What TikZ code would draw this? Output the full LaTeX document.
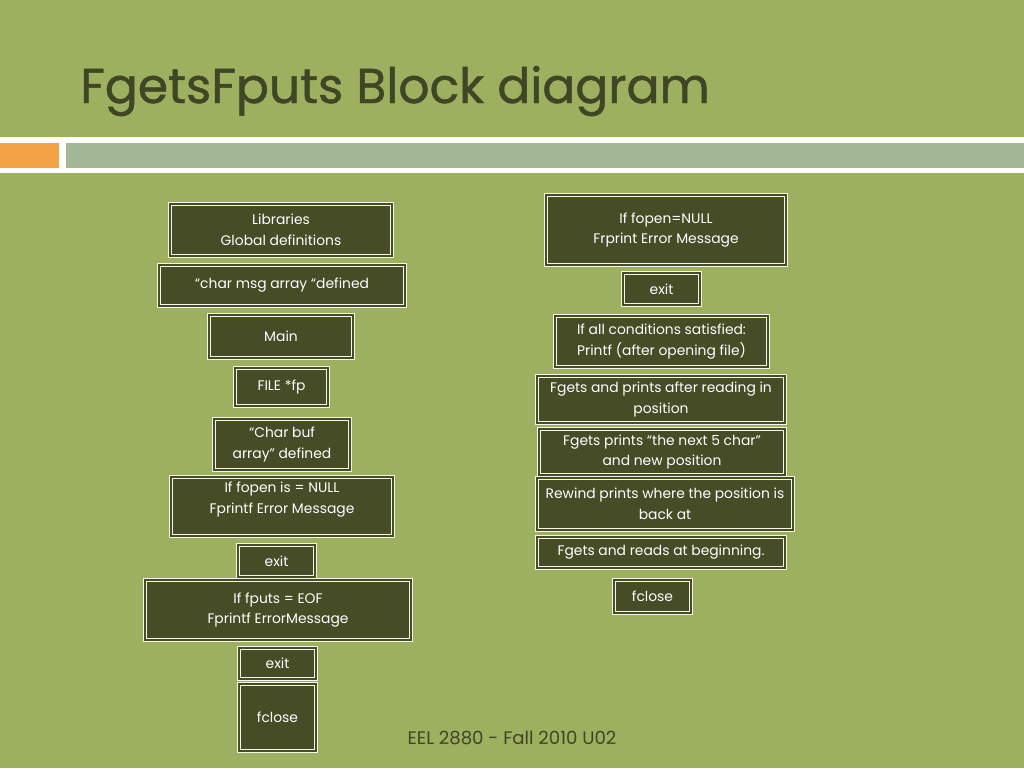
\documentclass[tikz,border=0pt]{standalone}
\usepackage{fontspec}
\setmainfont{Poppins}
\newfontfamily\headfont[FakeBold=1]{Poppins}
\usepackage{tikz}
\usetikzlibrary{positioning}
\definecolor{slidebg}{RGB}{157,176,96}
\definecolor{boxfill}{RGB}{69,76,38}
\definecolor{titlecol}{RGB}{63,70,38}
\definecolor{barorange}{RGB}{244,162,70}
\definecolor{bargray}{RGB}{164,183,151}
\definecolor{rim}{RGB}{246,246,232}

\begin{document}
\begin{tikzpicture}[x=0.75pt, y=-0.75pt,
  blk/.style 2 args={rectangle, fill=boxfill, draw=rim, double=boxfill,
    line width=0.7pt, double distance=1.5pt, text=white, align=center,
    inner sep=0pt, font=\fontsize{10.4}{15.5}\selectfont,
    minimum width={(#1-3.6)*0.75pt}, minimum height={(#2-3.6)*0.75pt}}]
  \fill[slidebg] (0,0) rectangle (1024,768);
  \useasboundingbox (0,0) rectangle (1024,768);
  \fill[white] (0,137) rectangle (1024,173);
  \fill[barorange] (0,143) rectangle (59,168);
  \fill[bargray] (66,143) rectangle (1024,168);
  \node[anchor=base west, inner sep=0pt, text=titlecol,
    font=\headfont\fontsize{36.6}{40}\selectfont] (title) at (80,103) {FgetsFputs Block diagram};

  % left column
  \node[blk={226}{56}] (lib) at (281,230) {Libraries\\Global definitions};
  \node[blk={250}{45}] (msg) at (282,285.5) {“char msg array “defined};
  \node[blk={148}{47}] (main) at (281,336.5) {Main};
  \node[blk={97}{42}] (fp) at (281.5,387) {FILE *fp};
  \node[blk={140}{55}] (buf) at (282,444.5) {“Char buf\\array” defined};
  \node[blk={226}{63}] (fopen) at (282,506.5) {If fopen is = NULL\\Fprintf Error Message\\[-2.75pt]};
  \node[blk={81}{36}] (exitA) at (276.5,561) {exit};
  \node[blk={270}{64}] (fputs) at (278,610) {If fputs = EOF\\Fprintf ErrorMessage};
  \node[blk={81}{35}] (exitB) at (277.5,663.5) {exit};
  \node[blk={81}{71}] (closeA) at (277.5,717.5) {fclose};

  % right column
  \node[blk={244}{74}] (ropen) at (666,230) {If fopen=NULL\\Frprint Error Message};
  \node[blk={81}{36}] (rexit) at (661.5,289) {exit};
  \node[blk={217}{55}] (cond) at (661.5,341.5) {If all conditions satisfied:\\Printf (after opening file)};
  \node[blk={252}{51}] (getsA) at (661,399.5) {Fgets and prints after reading in\\position};
  \node[blk={250}{50}] (getsB) at (662,452) {Fgets prints “the next 5 char”\\and new position};
  \node[blk={260}{56}] (rewind) at (665,504) {Rewind prints where the position is\\back at};
  \node[blk={252}{35}] (getsC) at (661,552.5) {Fgets and reads at beginning.};
  \node[blk={81}{37}] (closeB) at (652.5,596.5) {fclose};

  \node[text=titlecol, font=\fontsize{13.6}{15}\selectfont] (foot) at (512,738) {EEL 2880 - Fall 2010 U02};
\end{tikzpicture}
\end{document}
